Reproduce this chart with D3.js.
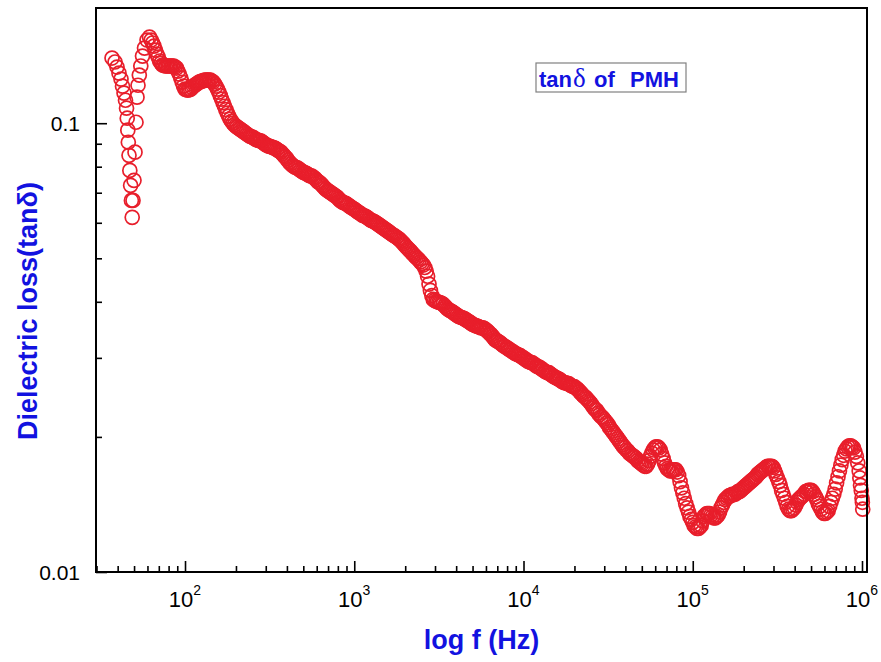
<!DOCTYPE html>
<html>
<head>
<meta charset="utf-8">
<script src="https://cdn.jsdelivr.net/npm/d3@7"></script>
<style>
  html, body { margin: 0; padding: 0; background: #ffffff; }
  svg { display: block; }
</style>
</head>
<body>
<svg id="chart" width="881" height="662"></svg>
<script>
// Frequency sweep (Hz) and dielectric loss tan(delta), one pair of arrays per decade
const freqDec1 = [37.05, 38.59, 39.65, 40.74, 41.87, 42.73, 43.62, 44.51, 45.13, 45.56,
  45.92, 46.24, 46.68, 47.20, 47.71, 48.23, 48.75, 49.29, 49.96, 50.65,
  51.34, 52.05, 52.76, 53.70, 54.80, 56.09, 57.64, 59.64, 61.69,
  63.10, 64.32, 65.57, 66.83, 68.13, 69.45, 70.80, 72.16, 73.56, 74.99,
  76.45, 77.92, 79.43, 80.97, 82.54, 84.14, 85.77, 87.43, 89.13, 90.85,
  92.61, 94.40, 96.24, 98.10];
const tanDec1 = [0.1397, 0.1369, 0.1334, 0.1293, 0.1254, 0.1209, 0.1167, 0.1125, 0.1080, 0.1026,
  0.0965, 0.0907, 0.0848, 0.0785, 0.0727, 0.0673, 0.0617, 0.0673, 0.0746, 0.0862,
  0.1005, 0.1143, 0.1215, 0.1280, 0.1341, 0.1411, 0.1470, 0.1532, 0.1556,
  0.1532, 0.1509, 0.1485, 0.1455, 0.1426, 0.1404, 0.1376, 0.1361, 0.1348, 0.1345,
  0.1341, 0.1341, 0.1341, 0.1341, 0.1341, 0.1341, 0.1341, 0.1334, 0.1327, 0.1306,
  0.1286, 0.1261, 0.1234, 0.1209];

const freqDec2 = [100, 101.9, 103.9, 105.9, 108.0, 110.1, 112.2, 114.4, 116.6, 118.9,
  121.2, 123.5, 125.9, 128.3, 130.8, 133.4, 135.9, 138.6, 141.3, 144.0,
  146.8, 149.6, 152.5, 155.5, 158.5, 161.6, 164.7, 167.9, 171.1, 174.4,
  177.8, 181.3, 184.8, 188.4, 192.0, 195.7, 199.5, 203.4, 207.3, 211.3,
  215.4, 219.6, 223.9, 228.2, 232.6, 237.1, 241.7, 246.4, 251.2, 256.1,
  261.0, 266.1, 271.2, 276.5, 281.8, 287.3, 292.9, 298.5, 304.3, 310.2,
  316.2, 322.4, 328.6, 335.0, 341.5, 348.1, 354.8, 361.7, 368.7, 375.8,
  383.1, 390.5, 398.1, 405.8, 413.7, 421.7, 429.9, 438.2, 446.7, 455.3,
  464.2, 473.1, 482.3, 491.7, 501.2, 510.9, 520.8, 530.9, 541.2, 551.7,
  562.3, 573.2, 584.3, 595.6, 607.2, 619.0, 631.0, 643.2, 655.7, 668.3,
  681.3, 694.5, 707.9, 721.6, 735.6, 749.9, 764.5, 779.2, 794.3, 809.7,
  825.4, 841.4, 857.7, 874.3, 891.3, 908.5, 926.1, 944.0, 962.4, 981.0];
const tanDec2 = [0.1191, 0.1188, 0.1185, 0.1188, 0.1191, 0.1200, 0.1209, 0.1216, 0.1222, 0.1228,
  0.1235, 0.1238, 0.1241, 0.1244, 0.1247, 0.1247, 0.1247, 0.1247, 0.1247, 0.1241,
  0.1235, 0.1222, 0.1209, 0.1191, 0.1173, 0.1152, 0.1131, 0.1111, 0.1091, 0.1072,
  0.1053, 0.1037, 0.1021, 0.1010, 0.1000, 0.0992, 0.0985, 0.0980, 0.0975, 0.0970,
  0.0965, 0.0960, 0.0955, 0.0950, 0.0945, 0.0940, 0.0935, 0.0933, 0.0931, 0.0926,
  0.0921, 0.0918, 0.0916, 0.0914, 0.0912, 0.0907, 0.0902, 0.0897, 0.0893, 0.0890,
  0.0888, 0.0886, 0.0884, 0.0881, 0.0879, 0.0874, 0.0870, 0.0866, 0.0862, 0.0855,
  0.0848, 0.0841, 0.0835, 0.0826, 0.0818, 0.0812, 0.0806, 0.0802, 0.0798, 0.0796,
  0.0794, 0.0789, 0.0785, 0.0781, 0.0777, 0.0775, 0.0773, 0.0769, 0.0765, 0.0763,
  0.0762, 0.0758, 0.0754, 0.0748, 0.0742, 0.0738, 0.0735, 0.0729, 0.0723, 0.0717,
  0.0712, 0.0708, 0.0705, 0.0701, 0.0698, 0.0694, 0.0691, 0.0687, 0.0684, 0.0678,
  0.0673, 0.0669, 0.0666, 0.0664, 0.0663, 0.0659, 0.0656, 0.0652, 0.0649, 0.0646];

const freqDec3 = [1000, 1019, 1039, 1059, 1080, 1101, 1122, 1144, 1166, 1189,
  1212, 1235, 1259, 1283, 1308, 1334, 1359, 1386, 1413, 1440,
  1468, 1496, 1525, 1555, 1585, 1616, 1647, 1679, 1711, 1744,
  1778, 1813, 1848, 1884, 1920, 1957, 1995, 2034, 2073, 2113,
  2154, 2196, 2239, 2282, 2326, 2371, 2417, 2464, 2512, 2561,
  2610, 2661, 2712, 2765, 2818, 2873, 2929, 2985, 3043, 3102,
  3162, 3223, 3286, 3350, 3415, 3481, 3548, 3617, 3687, 3758,
  3831, 3905, 3981, 4058, 4137, 4217, 4299, 4382, 4467, 4553,
  4642, 4731, 4823, 4917, 5012, 5109, 5208, 5309, 5412, 5516,
  5623, 5732, 5843, 5956, 6072, 6189, 6310, 6432, 6557, 6683,
  6813, 6945, 7079, 7216, 7356, 7499, 7645, 7792, 7943, 8097,
  8254, 8414, 8577, 8743, 8913, 9085, 9261, 9440, 9624, 9810];
const tanDec3 = [0.0643, 0.0640, 0.0636, 0.0633, 0.0630, 0.0627, 0.0623, 0.0622, 0.0620, 0.0617,
  0.0614, 0.0610, 0.0607, 0.0606, 0.0604, 0.0601, 0.0598, 0.0595, 0.0592, 0.0589,
  0.0586, 0.0583, 0.0580, 0.0577, 0.0574, 0.0571, 0.0568, 0.0565, 0.0562, 0.0560,
  0.0557, 0.0554, 0.0551, 0.0547, 0.0543, 0.0539, 0.0534, 0.0530, 0.0526, 0.0522,
  0.0518, 0.0514, 0.0510, 0.0506, 0.0502, 0.0499, 0.0495, 0.0491, 0.0487, 0.0483,
  0.0477, 0.0468, 0.0456, 0.0438, 0.0424, 0.0413, 0.0405, 0.0403, 0.0401, 0.0400,
  0.0399, 0.0398, 0.0397, 0.0395, 0.0392, 0.0389, 0.0386, 0.0384, 0.0382, 0.0381,
  0.0379, 0.0377, 0.0375, 0.0373, 0.0371, 0.0370, 0.0369, 0.0368, 0.0367, 0.0365,
  0.0363, 0.0362, 0.0360, 0.0358, 0.0356, 0.0355, 0.0354, 0.0353, 0.0352, 0.0351,
  0.0350, 0.0350, 0.0349, 0.0347, 0.0345, 0.0343, 0.0340, 0.0338, 0.0335, 0.0332,
  0.0329, 0.0328, 0.0326, 0.0325, 0.0323, 0.0321, 0.0319, 0.0318, 0.0316, 0.0315,
  0.0313, 0.0312, 0.0310, 0.0309, 0.0307, 0.0306, 0.0305, 0.0304, 0.0303, 0.0301];

const freqDec4 = [10000, 10190, 10390, 10590, 10800, 11010, 11220, 11440, 11660, 11890,
  12120, 12350, 12590, 12830, 13080, 13340, 13590, 13860, 14130, 14400,
  14680, 14960, 15250, 15550, 15850, 16160, 16470, 16790, 17110, 17440,
  17780, 18130, 18480, 18840, 19200, 19570, 19950, 20340, 20730, 21130,
  21540, 21960, 22390, 22820, 23260, 23710, 24170, 24640, 25120, 25610,
  26100, 26610, 27120, 27650, 28180, 28730, 29290, 29850, 30430, 31020,
  31620, 32230, 32860, 33500, 34150, 34810, 35480, 36170, 36870, 37580,
  38310, 39050, 39810, 40580, 41370, 42170, 42990, 43820, 44670, 45530,
  46420, 47310, 48230, 49170, 50120, 51090, 52080, 53090, 54120, 55160,
  56230, 57320, 58430, 59560, 60720, 61890, 63100, 64320, 65570, 66830,
  68130, 69450, 70790, 72160, 73560, 74990, 76450, 77920, 79430, 80970,
  82540, 84140, 85770, 87430, 89130, 90850, 92610, 94400, 96240, 98100];
const tanDec4 = [0.0300, 0.0298, 0.0297, 0.0295, 0.0294, 0.0293, 0.0293, 0.0291, 0.0290, 0.0288,
  0.0287, 0.0286, 0.0285, 0.0283, 0.0282, 0.0280, 0.0279, 0.0278, 0.0278, 0.0276,
  0.0275, 0.0273, 0.0272, 0.0271, 0.0270, 0.0269, 0.0268, 0.0266, 0.0265, 0.0264,
  0.0264, 0.0263, 0.0263, 0.0261, 0.0260, 0.0259, 0.0259, 0.0257, 0.0256, 0.0254,
  0.0252, 0.0250, 0.0248, 0.0246, 0.0245, 0.0243, 0.0241, 0.0239, 0.0237, 0.0234,
  0.0232, 0.0230, 0.0229, 0.0226, 0.0224, 0.0222, 0.0221, 0.0219, 0.0217, 0.0215,
  0.0213, 0.0210, 0.0208, 0.0206, 0.0204, 0.0202, 0.0200, 0.0198, 0.0196, 0.0194,
  0.0192, 0.0190, 0.0189, 0.0187, 0.0186, 0.0184, 0.0183, 0.0182, 0.0181, 0.0180,
  0.0179, 0.0177, 0.0176, 0.0175, 0.0174, 0.0173, 0.0172, 0.0172, 0.0174, 0.0177,
  0.0181, 0.0184, 0.0187, 0.0189, 0.0190, 0.0190, 0.0189, 0.0187, 0.0183, 0.0179,
  0.0175, 0.0172, 0.0170, 0.0169, 0.0168, 0.0168, 0.0169, 0.0169, 0.0169, 0.0167,
  0.0164, 0.0159, 0.0154, 0.0150, 0.0146, 0.0142, 0.0139, 0.0136, 0.0133, 0.0131];

const freqDec5 = [100000, 101900, 103900, 105900, 108000, 110100, 112200, 114400, 116600, 118900,
  121200, 123500, 125900, 128300, 130800, 133400, 135900, 138600, 141300, 144000,
  146800, 149600, 152500, 155500, 158500, 161600, 164700, 167900, 171100, 174400,
  177800, 181300, 184800, 188400, 192000, 195700, 199500, 203400, 207300, 211300,
  215400, 219600, 223900, 228200, 232600, 237100, 241700, 246400, 251200, 256100,
  261000, 266100, 271200, 276500, 281800, 287300, 292900, 298500, 304300, 310200,
  316200, 322400, 328600, 335000, 341500, 348100, 354800, 361700, 368700, 375800,
  383100, 390500, 398100, 405800, 413700, 421700, 429900, 438200, 446700, 455300,
  464200, 473100, 482300, 491700, 501200, 510900, 520800, 530900, 541200, 551700,
  562300, 573200, 584300, 595600, 607200, 619000, 631000, 643200, 655700, 668300,
  681300, 694500, 707900, 721600, 735600, 749900, 764500, 779200, 794300, 809700,
  825400, 841400, 857700, 874300, 891300, 908500, 926100, 944000, 962400,
  971000, 980000, 990000, 1000000, 1005000, 1010000];
const tanDec5 = [0.0129, 0.0127, 0.0126, 0.0125, 0.0125, 0.0126, 0.0127, 0.0130, 0.0133, 0.0134,
  0.0135, 0.0135, 0.0135, 0.0134, 0.0133, 0.0132, 0.0132, 0.0133, 0.0134, 0.0136,
  0.0139, 0.0141, 0.0143, 0.0145, 0.0146, 0.0147, 0.0148, 0.0148, 0.0149, 0.0149,
  0.0149, 0.0150, 0.0151, 0.0151, 0.0152, 0.0153, 0.0154, 0.0155, 0.0156, 0.0157,
  0.0158, 0.0159, 0.0160, 0.0161, 0.0162, 0.0163, 0.0165, 0.0166, 0.0167, 0.0168,
  0.0169, 0.0170, 0.0171, 0.0172, 0.0172, 0.0172, 0.0172, 0.0171, 0.0168, 0.0165,
  0.0162, 0.0159, 0.0156, 0.0152, 0.0149, 0.0146, 0.0143, 0.0140, 0.0138, 0.0137,
  0.0137, 0.0138, 0.0139, 0.0141, 0.0143, 0.0145, 0.0146, 0.0147, 0.0148, 0.0149,
  0.0151, 0.0151, 0.0152, 0.0152, 0.0152, 0.0151, 0.0149, 0.0147, 0.0145, 0.0142,
  0.0140, 0.0138, 0.0136, 0.0135, 0.0135, 0.0136, 0.0137, 0.0140, 0.0143, 0.0146,
  0.0149, 0.0153, 0.0158, 0.0163, 0.0168, 0.0173, 0.0178, 0.0182, 0.0186, 0.0188,
  0.0190, 0.0191, 0.0191, 0.0190, 0.0189, 0.0185, 0.0181, 0.0175, 0.0168,
  0.0162, 0.0156, 0.0152, 0.0146, 0.0143, 0.0138];

// Axis ticks and text
const xMajorTicks = [1e2, 1e3, 1e4, 1e5, 1e6];
const xMajorExponents = ["2", "3", "4", "5", "6"];
const yMajorTicks = [0.01, 0.1];
const yMajorLabels = ["0.01", "0.1"];
const xTitle = "log f (Hz)";
const yTitle = "Dielectric loss(tan\u03B4)";
const legendWords = ["tan", "\u03B4", "of", "PMH"];

// ---------------------------------------------------------------------------
const freqAll = [].concat(freqDec1, freqDec2, freqDec3, freqDec4, freqDec5);
const tanAll = [].concat(tanDec1, tanDec2, tanDec3, tanDec4, tanDec5);
const points = freqAll.map((f, i) => ({ f: f, v: tanAll[i] }));

const RED = "#e81e2b";
const BLUE = "#1212e0";
const FONT = "Arial, 'Liberation Sans', Helvetica, sans-serif";
const SERIF = "'Times New Roman', 'Liberation Serif', 'DejaVu Serif', serif";

const box = { left: 96, right: 867, top: 8, bottom: 572 };

const svg = d3.select("#chart");

const x = d3.scaleLog().domain([29.79, 1.0704e6]).range([box.left, box.right]);
const y = d3.scaleLog().domain([0.01, 0.1806]).range([box.bottom, box.top]);

// minor tick positions (2..9 within each decade, inside the domain)
const xMinor = [];
for (let e = 1; e <= 5; e++) {
  for (let m = 2; m <= 9; m++) {
    const v = m * Math.pow(10, e);
    if (v > x.domain()[0] && v < x.domain()[1]) xMinor.push(v);
  }
}
const yMinor = [];
for (let m = 2; m <= 9; m++) yMinor.push(m * 0.01);

// data markers: hollow circles
svg.append("g")
  .selectAll("circle")
  .data(points)
  .join("circle")
  .attr("cx", d => x(d.f))
  .attr("cy", d => y(d.v))
  .attr("r", 7)
  .attr("fill", "none")
  .attr("stroke", RED)
  .attr("stroke-width", 1.7);

// frame
svg.append("rect")
  .attr("x", box.left).attr("y", box.top)
  .attr("width", box.right - box.left).attr("height", box.bottom - box.top)
  .attr("fill", "none").attr("stroke", "#000").attr("stroke-width", 2);

// inward ticks on bottom and left axes
function styleAxis(g) {
  g.select(".domain").remove();
  g.selectAll(".tick line").attr("stroke", "#000").attr("stroke-width", 1.6);
  g.selectAll(".tick text").remove();
}
svg.append("g")
  .attr("transform", `translate(0,${box.bottom})`)
  .call(d3.axisBottom(x).tickValues(xMinor).tickSize(-6).tickSizeOuter(0).tickFormat(""))
  .call(styleAxis);
svg.append("g")
  .attr("transform", `translate(0,${box.bottom})`)
  .call(d3.axisBottom(x).tickValues(xMajorTicks).tickSize(-11).tickSizeOuter(0).tickFormat(""))
  .call(styleAxis);
svg.append("g")
  .attr("transform", `translate(${box.left},0)`)
  .call(d3.axisLeft(y).tickValues(yMinor).tickSize(-6).tickSizeOuter(0).tickFormat(""))
  .call(styleAxis);
svg.append("g")
  .attr("transform", `translate(${box.left},0)`)
  .call(d3.axisLeft(y).tickValues(yMajorTicks).tickSize(-11).tickSizeOuter(0).tickFormat(""))
  .call(styleAxis);

// x tick labels: 10 with superscript exponent
const xl = svg.append("g").attr("font-family", FONT).attr("fill", "#000");
xMajorTicks.forEach((t, i) => {
  const tx = xl.append("text")
    .attr("x", x(t))
    .attr("y", 607)
    .attr("text-anchor", "middle")
    .attr("font-size", 22);
  tx.append("tspan").text("10");
  tx.append("tspan").attr("dy", -12).attr("font-size", 14).text(xMajorExponents[i]);
});

// y tick labels
svg.append("g").attr("font-family", FONT)
  .selectAll("text")
  .data(yMajorTicks)
  .join("text")
  .attr("x", 80)
  .attr("y", d => y(d) + 7.5)
  .attr("text-anchor", "end")
  .attr("font-size", 21)
  .attr("fill", "#000")
  .text((d, i) => yMajorLabels[i]);

// axis titles
svg.append("text")
  .attr("x", (box.left + box.right) / 2)
  .attr("y", 649)
  .attr("text-anchor", "middle")
  .attr("font-family", FONT)
  .attr("font-weight", "bold")
  .attr("font-size", 27)
  .attr("fill", BLUE)
  .text(xTitle);

svg.append("text")
  .attr("transform", "translate(37,311) rotate(-90)")
  .attr("text-anchor", "middle")
  .attr("font-family", FONT)
  .attr("font-weight", "bold")
  .attr("font-size", 27)
  .attr("fill", BLUE)
  .text(yTitle);

// legend box
const lg = svg.append("g");
lg.append("rect")
  .attr("x", 536).attr("y", 63).attr("width", 150).attr("height", 29)
  .attr("fill", "#fff").attr("stroke", "#808080").attr("stroke-width", 1.2);
const lt = lg.append("text")
  .attr("y", 86.5)
  .attr("font-family", FONT)
  .attr("font-weight", "bold")
  .attr("font-size", 22)
  .attr("fill", BLUE);
lt.append("tspan").attr("x", 539).text(legendWords[0]);
lt.append("tspan").attr("dx", 1).attr("font-family", SERIF).attr("font-weight", "normal")
  .attr("font-size", 27).text(legendWords[1]);
lt.append("tspan").attr("x", 594).text(legendWords[2]);
lt.append("tspan").attr("x", 630).text(legendWords[3]);
</script>
</body>
</html>
